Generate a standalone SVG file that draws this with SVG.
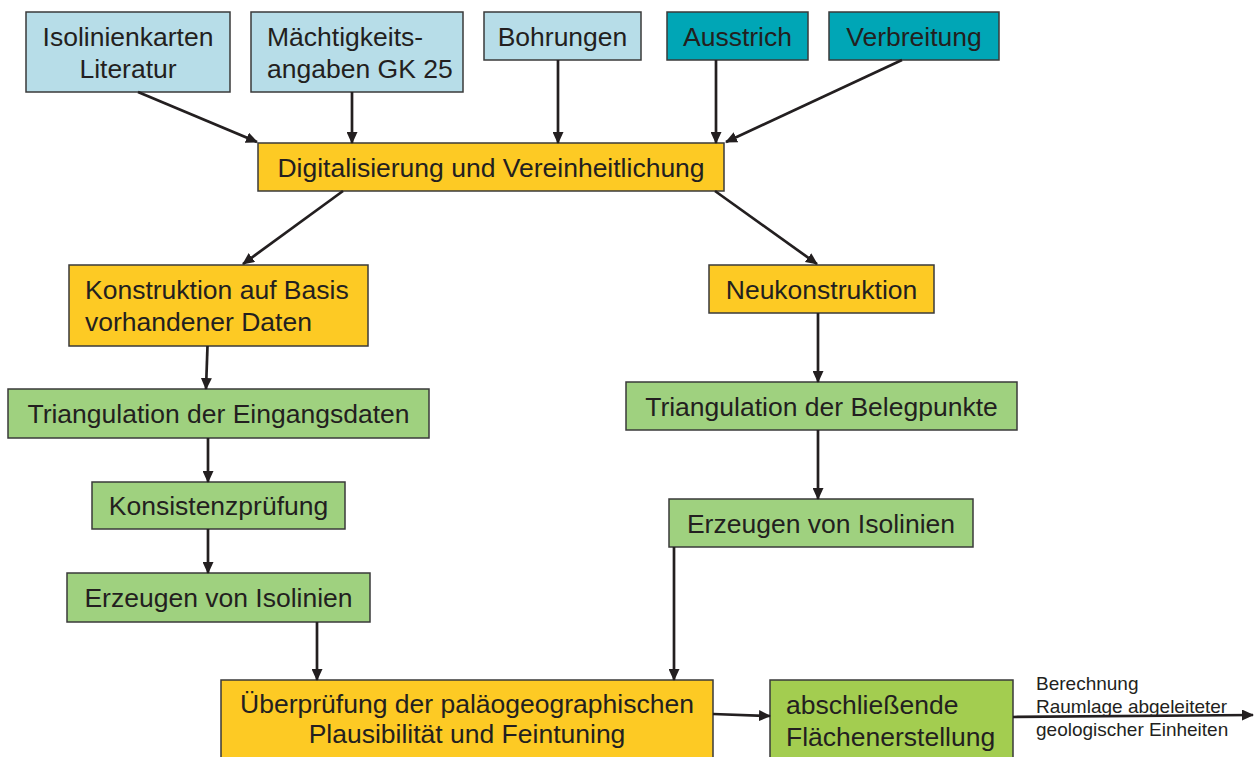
<svg xmlns="http://www.w3.org/2000/svg" width="1255" height="757" viewBox="0 0 1255 757">
<defs>
<style>
.box{stroke:#3a3a3a;stroke-width:1.5}
.lb{fill:#b7dde8}
.tl{fill:#00a6b6}
.ye{fill:#fdca24}
.gr{fill:#9fd17f}
.gb{fill:#a3cd50}
text{font-family:"Liberation Sans",Arial,sans-serif;font-size:26.5px;fill:#231f20}
.c{text-anchor:middle}
.s{font-size:19px}
.con line{stroke:#231f20;stroke-width:2.7;marker-end:url(#ah)}
</style>
<marker id="ah" viewBox="0 0 12 11" refX="11" refY="5.5" markerWidth="12" markerHeight="11" markerUnits="userSpaceOnUse" orient="auto">
<path d="M0,0 L12,5.5 L0,11 z" fill="#231f20"/>
</marker>
</defs>
<rect width="1255" height="757" fill="#ffffff"/>

<g id="isolinien"><rect class="box lb" x="26" y="12" width="204" height="80"/><text class="c" x="128" y="46">Isolinienkarten</text><text class="c" x="128" y="78">Literatur</text></g>
<g id="maechtigkeit"><rect class="box lb" x="251" y="12" width="212" height="80"/><text x="267" y="46">Mächtigkeits-</text><text x="267" y="78">angaben GK 25</text></g>
<g id="bohrungen"><rect class="box lb" x="484" y="12" width="157" height="48"/><text class="c" x="562.5" y="45.5">Bohrungen</text></g>
<g id="ausstrich"><rect class="box tl" x="667" y="12" width="141" height="48"/><text class="c" x="737.5" y="45.5">Ausstrich</text></g>
<g id="verbreitung"><rect class="box tl" x="829" y="12" width="170" height="48"/><text class="c" x="914" y="45.5">Verbreitung</text></g>

<g id="digitalisierung"><rect class="box ye" x="258" y="143" width="466" height="48"/><text class="c" x="491" y="176.5">Digitalisierung und Vereinheitlichung</text></g>

<g id="konstruktion"><rect class="box ye" x="69" y="265" width="299" height="81"/><text x="85" y="299">Konstruktion auf Basis</text><text x="85" y="331">vorhandener Daten</text></g>
<g id="neukonstruktion"><rect class="box ye" x="709" y="265" width="225" height="48"/><text class="c" x="821.5" y="298.5">Neukonstruktion</text></g>

<g id="triangulation-eingang"><rect class="box gr" x="8" y="389" width="421" height="49"/><text class="c" x="218.5" y="423">Triangulation der Eingangsdaten</text></g>
<g id="triangulation-beleg"><rect class="box gr" x="626" y="382" width="391" height="48"/><text class="c" x="821.5" y="416">Triangulation der Belegpunkte</text></g>

<g id="konsistenz"><rect class="box gr" x="92" y="482" width="253" height="47"/><text class="c" x="218.5" y="515">Konsistenzprüfung</text></g>
<g id="erzeugen-rechts"><rect class="box gr" x="669" y="499" width="304" height="48"/><text class="c" x="821" y="532.5">Erzeugen von Isolinien</text></g>
<g id="erzeugen-links"><rect class="box gr" x="67" y="573" width="303" height="49"/><text class="c" x="218.5" y="607">Erzeugen von Isolinien</text></g>

<g id="ueberpruefung"><rect class="box ye" x="221" y="680" width="492" height="95"/><text class="c" x="467" y="713">Überprüfung der paläogeographischen</text><text class="c" x="467" y="743">Plausibilität und Feintuning</text></g>
<g id="abschliessend"><rect class="box gb" x="770" y="680" width="243" height="95"/><text x="786" y="714">abschließende</text><text x="786" y="746">Flächenerstellung</text></g>

<g id="ausgabe"><text class="s" x="1036" y="690">Berechnung</text><text class="s" x="1036" y="713">Raumlage abgeleiteter</text><text class="s" x="1036" y="736">geologischer Einheiten</text></g>

<g id="connectors" class="con">
<line x1="138" y1="92" x2="257" y2="142"/>
<line x1="352" y1="92" x2="352" y2="143"/>
<line x1="558" y1="60" x2="558" y2="143"/>
<line x1="716" y1="60" x2="716" y2="143"/>
<line x1="902" y1="60" x2="726" y2="142"/>
<line x1="343" y1="191" x2="243" y2="264"/>
<line x1="715" y1="191" x2="817" y2="264"/>
<line x1="207.5" y1="346" x2="206" y2="389"/>
<line x1="818" y1="313" x2="818" y2="382"/>
<line x1="208" y1="438" x2="208" y2="482"/>
<line x1="818" y1="430" x2="818" y2="499"/>
<line x1="208" y1="529" x2="208" y2="573"/>
<line x1="317" y1="622" x2="317" y2="680"/>
<line x1="674" y1="547" x2="674" y2="680"/>
<line x1="713" y1="714" x2="770" y2="716"/>
<line x1="1013" y1="717" x2="1253" y2="715"/>
</g>
</svg>
